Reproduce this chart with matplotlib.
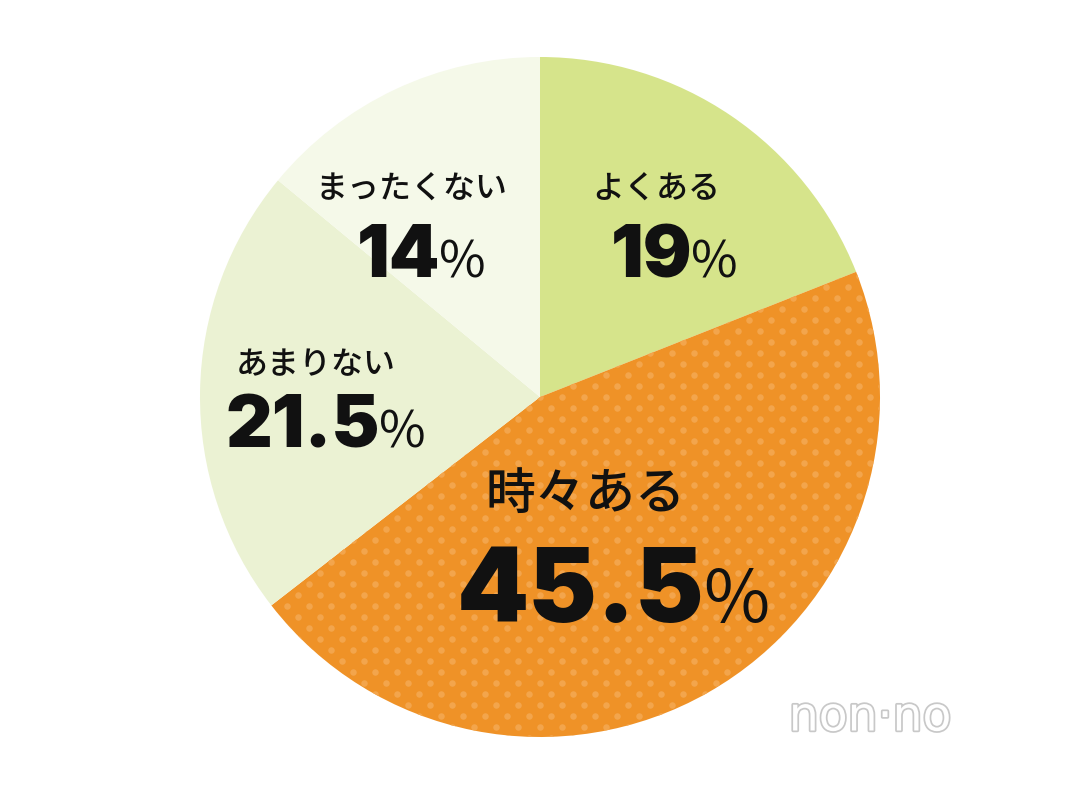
"""
円グラフ: よくある / 時々ある / あまりない / まったくない
"""

import numpy as np
import matplotlib.pyplot as plt
import matplotlib.patheffects as pe

plt.rcParams["font.family"] = ["Noto Sans CJK JP", "DejaVu Sans"]

LABELS = ["よくある", "時々ある", "あまりない", "まったくない"]
VALUES = [19, 45.5, 21.5, 14]
VALUE_TEXT = ["19", "45.5", "21.5", "14"]
COLORS = ["#d6e48b", "#ef9227", "#ebf2d3", "#f5f9e9"]

# pixel -> data (center 540,397 ; radius 340 px)
CX, CY, R = 540, 397, 340


def px(x, y):
    return (x - CX) / R, (CY - y) / R


def main():
    fig = plt.figure(figsize=(10.8, 7.94), dpi=100)
    ax = fig.add_axes([0, 0, 1, 1])

    wedges, _ = ax.pie(VALUES, colors=COLORS, startangle=90, counterclock=False,
                       radius=1, center=(0, 0), wedgeprops=dict(linewidth=0))
    ax.set_xlim(-CX / R, (1080 - CX) / R)
    ax.set_ylim(-(794 - CY) / R, CY / R)
    ax.set_aspect("equal")
    ax.axis("off")

    # ドット柄 (時々ある)
    step = 22 / R
    gx, gy = [], []
    for j, yy in enumerate(np.arange(-1.1, 1.1, step / 2)):
        off = step / 2 if j % 2 else 0
        for xx in np.arange(-1.1, 1.1, step):
            gx.append(xx + off)
            gy.append(yy)
    dots = ax.scatter(gx, gy, s=22, color="#f3a54c", linewidths=0, zorder=2)
    dots.set_clip_path(wedges[1])

    # ラベル (ラベル中心, 数字の右端/ベースライン, ラベルサイズ, 数字サイズ)
    layout = [
        ((656, 190), (692, 277), 23, 52),
        ((585, 495), (704, 622), 36, 74),
        ((316, 365), (380, 448), 23, 52),
        ((411, 190), (440, 277), 23, 52),
    ]
    for lab, num, (lp, np_, ls, ns) in zip(LABELS, VALUE_TEXT, layout):
        ax.text(*px(*lp), lab, ha="center", va="center", fontsize=ls,
                fontweight="medium", color="#111111", zorder=3)
        ax.text(*px(*np_), num, ha="right", va="baseline", fontsize=ns,
                fontfamily="Inter", fontweight="black", color="#111111", zorder=3)
        ax.text(*px(np_[0] - 1, np_[1]), "%", ha="left", va="baseline",
                fontsize=ns * 0.7, fontweight="normal", color="#111111", zorder=3)

    # ロゴ
    ax.text(*px(870, 718), "non·no", ha="center", va="center", fontsize=34,
            color="white", fontfamily="DejaVu Sans", zorder=4,
            path_effects=[pe.withStroke(linewidth=2.5, foreground="#c8c8c8")])

    fig.savefig("out.png", dpi=100)
    plt.close(fig)


if __name__ == "__main__":
    main()
